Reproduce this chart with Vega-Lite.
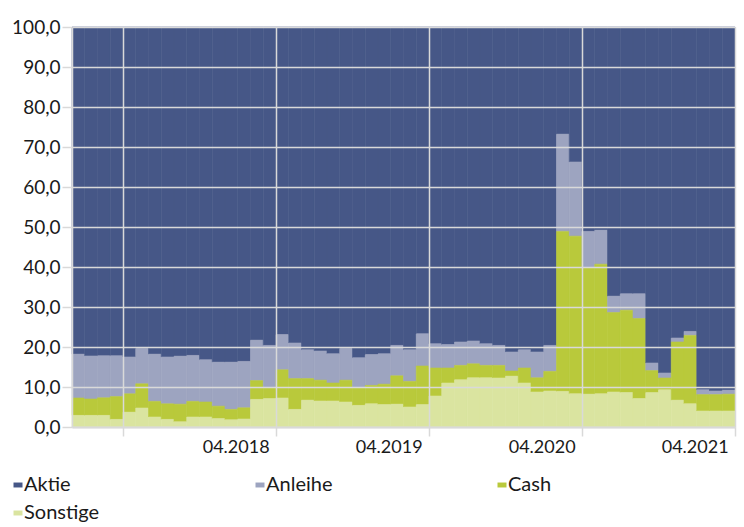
{
  "$schema": "https://vega.github.io/schema/vega-lite/v6.json",
  "width": 663,
  "height": 400,
  "autosize": {"type": "none"},
  "padding": {"left": 72, "top": 27, "right": 9, "bottom": 100},
  "background": "white",
  "config": {
    "font": "Lato",
    "view": {"stroke": null},
    "axis": {"labelFont": "Lato", "labelColor": "#1a1a1a", "labelFontSize": 19}
  },
  "data": {
    "values": [
      {"Monat": "2017-01", "Aktie": 81.8, "Anleihe": 10.95, "Cash": 4.35, "Sonstige": 2.9},
      {"Monat": "2017-02", "Aktie": 82.25, "Anleihe": 10.75, "Cash": 4.1, "Sonstige": 2.9},
      {"Monat": "2017-03", "Aktie": 82.2, "Anleihe": 10.5, "Cash": 4.4, "Sonstige": 2.9},
      {"Monat": "2017-04", "Aktie": 82.2, "Anleihe": 10.2, "Cash": 5.7, "Sonstige": 1.9},
      {"Monat": "2017-05", "Aktie": 82.5, "Anleihe": 9.2, "Cash": 4.6, "Sonstige": 3.7},
      {"Monat": "2017-06", "Aktie": 80.4, "Anleihe": 8.8, "Cash": 6.05, "Sonstige": 4.75},
      {"Monat": "2017-07", "Aktie": 81.8, "Anleihe": 11.8, "Cash": 3.9, "Sonstige": 2.5},
      {"Monat": "2017-08", "Aktie": 82.5, "Anleihe": 11.7, "Cash": 3.9, "Sonstige": 1.9},
      {"Monat": "2017-09", "Aktie": 82.3, "Anleihe": 12.0, "Cash": 4.4, "Sonstige": 1.3},
      {"Monat": "2017-10", "Aktie": 82.1, "Anleihe": 11.5, "Cash": 3.9, "Sonstige": 2.5},
      {"Monat": "2017-11", "Aktie": 83.2, "Anleihe": 10.55, "Cash": 3.75, "Sonstige": 2.5},
      {"Monat": "2017-12", "Aktie": 83.8, "Anleihe": 11.0, "Cash": 3.1, "Sonstige": 2.1},
      {"Monat": "2018-01", "Aktie": 83.8, "Anleihe": 11.8, "Cash": 2.6, "Sonstige": 1.8},
      {"Monat": "2018-02", "Aktie": 83.6, "Anleihe": 11.6, "Cash": 2.8, "Sonstige": 2.0},
      {"Monat": "2018-03", "Aktie": 78.3, "Anleihe": 10.1, "Cash": 4.7, "Sonstige": 6.9},
      {"Monat": "2018-04", "Aktie": 79.6, "Anleihe": 10.6, "Cash": 2.7, "Sonstige": 7.1},
      {"Monat": "2018-05", "Aktie": 76.9, "Anleihe": 8.8, "Cash": 7.05, "Sonstige": 7.25},
      {"Monat": "2018-06", "Aktie": 79.0, "Anleihe": 8.9, "Cash": 7.7, "Sonstige": 4.4},
      {"Monat": "2018-07", "Aktie": 80.7, "Anleihe": 7.2, "Cash": 5.4, "Sonstige": 6.7},
      {"Monat": "2018-08", "Aktie": 81.0, "Anleihe": 7.3, "Cash": 5.2, "Sonstige": 6.5},
      {"Monat": "2018-09", "Aktie": 81.7, "Anleihe": 7.3, "Cash": 4.5, "Sonstige": 6.5},
      {"Monat": "2018-10", "Aktie": 80.4, "Anleihe": 7.9, "Cash": 5.45, "Sonstige": 6.25},
      {"Monat": "2018-11", "Aktie": 82.7, "Anleihe": 7.5, "Cash": 4.4, "Sonstige": 5.4},
      {"Monat": "2018-12", "Aktie": 81.9, "Anleihe": 7.7, "Cash": 4.6, "Sonstige": 5.8},
      {"Monat": "2019-01", "Aktie": 81.7, "Anleihe": 7.6, "Cash": 5.1, "Sonstige": 5.6},
      {"Monat": "2019-02", "Aktie": 79.6, "Anleihe": 7.6, "Cash": 7.1, "Sonstige": 5.7},
      {"Monat": "2019-03", "Aktie": 80.7, "Anleihe": 7.9, "Cash": 6.4, "Sonstige": 5.0},
      {"Monat": "2019-04", "Aktie": 76.7, "Anleihe": 8.05, "Cash": 9.65, "Sonstige": 5.6},
      {"Monat": "2019-05", "Aktie": 79.2, "Anleihe": 6.05, "Cash": 7.0, "Sonstige": 7.75},
      {"Monat": "2019-06", "Aktie": 79.4, "Anleihe": 5.85, "Cash": 3.75, "Sonstige": 11.0},
      {"Monat": "2019-07", "Aktie": 78.75, "Anleihe": 5.85, "Cash": 3.6, "Sonstige": 11.8},
      {"Monat": "2019-08", "Aktie": 78.5, "Anleihe": 5.7, "Cash": 3.5, "Sonstige": 12.3},
      {"Monat": "2019-09", "Aktie": 79.2, "Anleihe": 5.4, "Cash": 3.1, "Sonstige": 12.3},
      {"Monat": "2019-10", "Aktie": 79.6, "Anleihe": 5.0, "Cash": 3.15, "Sonstige": 12.25},
      {"Monat": "2019-11", "Aktie": 81.25, "Anleihe": 4.75, "Cash": 1.3, "Sonstige": 12.7},
      {"Monat": "2019-12", "Aktie": 80.7, "Anleihe": 4.55, "Cash": 3.75, "Sonstige": 11.0},
      {"Monat": "2020-01", "Aktie": 81.25, "Anleihe": 6.45, "Cash": 3.55, "Sonstige": 8.75},
      {"Monat": "2020-02", "Aktie": 79.6, "Anleihe": 6.5, "Cash": 4.9, "Sonstige": 9.0},
      {"Monat": "2020-03", "Aktie": 26.8, "Anleihe": 24.3, "Cash": 40.0, "Sonstige": 8.9},
      {"Monat": "2020-04", "Aktie": 33.75, "Anleihe": 18.55, "Cash": 39.4, "Sonstige": 8.3},
      {"Monat": "2020-05", "Aktie": 51.1, "Anleihe": 9.15, "Cash": 31.55, "Sonstige": 8.2},
      {"Monat": "2020-06", "Aktie": 50.8, "Anleihe": 8.5, "Cash": 32.4, "Sonstige": 8.3},
      {"Monat": "2020-07", "Aktie": 67.3, "Anleihe": 4.1, "Cash": 19.85, "Sonstige": 8.75},
      {"Monat": "2020-08", "Aktie": 66.7, "Anleihe": 4.1, "Cash": 20.6, "Sonstige": 8.6},
      {"Monat": "2020-09", "Aktie": 66.7, "Anleihe": 6.2, "Cash": 20.0, "Sonstige": 7.1},
      {"Monat": "2020-10", "Aktie": 84.0, "Anleihe": 1.9, "Cash": 5.5, "Sonstige": 8.6},
      {"Monat": "2020-11", "Aktie": 86.5, "Anleihe": 1.25, "Cash": 2.95, "Sonstige": 9.3},
      {"Monat": "2020-12", "Aktie": 77.75, "Anleihe": 1.0, "Cash": 14.55, "Sonstige": 6.7},
      {"Monat": "2021-01", "Aktie": 76.1, "Anleihe": 1.0, "Cash": 17.1, "Sonstige": 5.8},
      {"Monat": "2021-02", "Aktie": 90.7, "Anleihe": 1.2, "Cash": 4.1, "Sonstige": 4.0},
      {"Monat": "2021-03", "Aktie": 91.0, "Anleihe": 0.9, "Cash": 4.1, "Sonstige": 4.0},
      {"Monat": "2021-04", "Aktie": 90.8, "Anleihe": 1.0, "Cash": 4.2, "Sonstige": 4.0}
    ]
  },
  "transform": [
    {"fold": ["Aktie", "Anleihe", "Cash", "Sonstige"], "as": ["Typ", "Wert"]}
  ],
  "mark": {"type": "bar", "strokeWidth": 0.6},
  "encoding": {
    "x": {
      "field": "Monat",
      "type": "ordinal",
      "sort": "ascending",
      "scale": {"paddingInner": 0, "paddingOuter": 0},
      "axis": {
        "title": null,
        "values": ["2017-04", "2018-04", "2019-04", "2020-04", "2021-04"],
        "bandPosition": 1,
        "labelExpr": "datum.value == '2017-04' ? '' : substring(datum.value, 5, 7) + '.' + substring(datum.value, 0, 4)",
        "labelAngle": 0,
        "labelAlign": "right",
        "labelBaseline": "top",
        "labelFontSize": 18,
        "labelPadding": 2,
        "labelDx": 0,
        "grid": true,
        "gridColor": "#d9d9d9",
        "gridWidth": 1.5,
        "tickColor": "#d9d9d9",
        "tickSize": 9,
        "tickWidth": 1.5,
        "domainColor": "#d9d9d9",
        "domainWidth": 2,
        "zindex": 1
      }
    },
    "y": {
      "field": "Wert",
      "type": "quantitative",
      "stack": "zero",
      "scale": {"domain": [0, 100], "nice": false},
      "axis": {
        "title": null,
        "values": [0, 10, 20, 30, 40, 50, 60, 70, 80, 90, 100],
        "labelExpr": "replace(format(datum.value, '.1f'), '.', ',')",
        "labelPadding": 2,
        "grid": true,
        "gridColor": "#d9d9d9",
        "gridWidth": 1.5,
        "tickColor": "#d9d9d9",
        "tickSize": 10,
        "tickWidth": 1.5,
        "domain": true,
        "domainColor": "#d9d9d9",
        "domainWidth": 1.5,
        "zindex": 1
      }
    },
    "color": {
      "field": "Typ",
      "type": "nominal",
      "scale": {
        "domain": ["Aktie", "Anleihe", "Cash", "Sonstige"],
        "range": ["#465787", "#9da4c0", "#b9c93b", "#dae4a0"]
      },
      "legend": {
        "title": null,
        "orient": "none",
        "legendX": -64,
        "legendY": 448,
        "direction": "horizontal",
        "columns": 3,
        "gridAlign": "all",
        "columnPadding": 150,
        "rowPadding": 8,
        "labelFontSize": 20,
        "labelColor": "#1a1a1a",
        "labelOffset": -4,
        "symbolType": "M-1,-0.55H1V0.55H-1Z",
        "symbolSize": 81,
        "symbolStrokeWidth": 0,
        "padding": 0
      }
    },
    "stroke": {
      "field": "Typ",
      "type": "nominal",
      "scale": {
        "domain": ["Aktie", "Anleihe", "Cash", "Sonstige"],
        "range": ["#465787", "#9da4c0", "#b9c93b", "#dae4a0"]
      },
      "legend": null
    },
    "order": {"field": "Typ", "sort": "descending"}
  }
}
